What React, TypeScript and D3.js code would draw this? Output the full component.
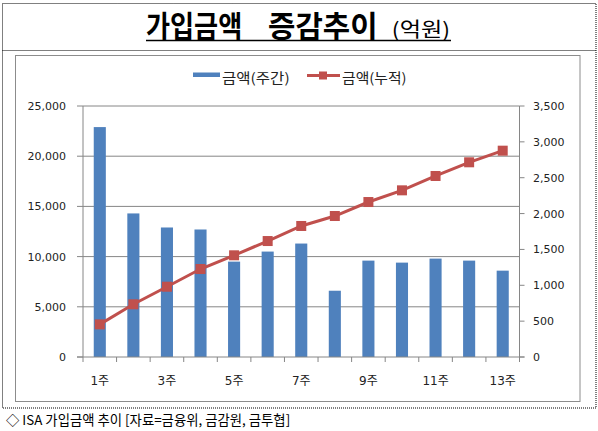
import React, { useEffect, useRef } from 'react';
import { scaleBand, scaleLinear, line, format, select } from 'd3';

const weeks = ['1주', '2주', '3주', '4주', '5주', '6주', '7주', '8주', '9주', '10주', '11주', '12주', '13주'];
const weekly = [22900, 14300, 12900, 12700, 9500, 10500, 11300, 6600, 9600, 9400, 9800, 9600, 8600];
const cumulative = [455, 735, 980, 1227, 1418, 1617, 1827, 1966, 2161, 2324, 2524, 2715, 2877];
const leftTicks = [0, 5000, 10000, 15000, 20000, 25000];
const rightTicks = [0, 500, 1000, 1500, 2000, 2500, 3000, 3500];

const W = 598;
const H = 431;
const plot = { left: 83, right: 519.5, top: 106, bottom: 357 };
const BLUE = '#4F81BD';
const RED = '#C0504D';
const GRID = '#868686';
const KR = '"Noto Sans CJK KR", "Noto Sans", sans-serif';
const NUM = '"DejaVu Sans", "Noto Sans CJK KR", sans-serif';

function App() {
  const svgRef = useRef<SVGSVGElement | null>(null);
  const x = scaleBand<string>().domain(weeks).range([plot.left, plot.right]).padding(0);
  const yL = scaleLinear().domain([0, 25000]).range([plot.bottom, plot.top]);
  const yR = scaleLinear().domain([0, 3500]).range([plot.bottom, plot.top]);
  const fmt = format(',');
  const barW = x.bandwidth() * 0.36;
  const cx = (w: string) => x(w)! + x.bandwidth() / 2;

  const path = line<number>()
    .x((_, i) => cx(weeks[i]))
    .y(d => yR(d))(cumulative);

  const boundaries = [...weeks.map(w => x(w)!), plot.right];

  // fit the ink of some texts to the span they cover in the picture
  useEffect(() => {
    const ctx = document.createElement('canvas').getContext('2d')!;
    select(svgRef.current).selectAll<SVGTextElement, unknown>('text[data-x0]').each(function () {
      const x0 = +this.getAttribute('data-x0')!;
      const x1 = +this.getAttribute('data-x1')!;
      const cs = getComputedStyle(this);
      ctx.font = `${cs.fontWeight} ${cs.fontSize} ${cs.fontFamily}`;
      const m = ctx.measureText(this.textContent || '');
      const ink = m.actualBoundingBoxLeft + m.actualBoundingBoxRight;
      if (!ink) return;
      const s = (x1 - x0) / ink;
      select(this).attr('x', 0).attr('transform', `translate(${x0 + m.actualBoundingBoxLeft * s},0) scale(${s},1)`);
    });
  }, []);

  return (
    <div style={{ position: 'absolute', left: 0, top: 0 }}>
      <svg ref={svgRef} width={W} height={H} style={{ display: 'block', background: '#fff' }}>
        {/* dotted frame */}
        <rect x={2.5} y={3.5} width={593.5} height={404.5} fill="none" stroke="#000" strokeDasharray="1,1" />
        <line x1={2.5} x2={596} y1={50.5} y2={50.5} stroke="#000" strokeDasharray="1,1" />

        {/* title */}
        <text x={146} y={37} data-x0={146} data-x1={240} fontFamily={KR} fontWeight="bold" fontSize={30} fill="#000">가입금액</text>
        <text x={269} y={37} data-x0={269} data-x1={375} fontFamily={KR} fontWeight="bold" fontSize={30} fill="#000">증감추이</text>
        <text x={393} y={37} data-x0={393} data-x1={448} fontFamily={KR} fontSize={20} fill="#000">(억원)</text>
        <line x1={146} x2={451} y1={40.5} y2={40.5} stroke="#000" strokeWidth={1.5} />

        {/* chart box */}
        <rect x={15.5} y={55.5} width={564.5} height={346} fill="#fff" stroke="#8c8c8c" />

        {/* legend */}
        <rect x={193} y={72.5} width={27} height={4.5} fill={BLUE} />
        <text x={222} y={83} data-x0={222} data-x1={289} fontFamily={KR} fontSize={13.5} fill="#222">금액(주간)</text>
        <line x1={307} x2={340} y1={75.5} y2={75.5} stroke={RED} strokeWidth={3} />
        <rect x={319} y={71.5} width={8} height={8} fill={RED} />
        <text x={342} y={83} data-x0={342} data-x1={406} fontFamily={KR} fontSize={13.5} fill="#222">금액(누적)</text>

        {/* gridlines */}
        {leftTicks.filter(t => t > 0).map(t => (
          <line key={t} x1={plot.left} x2={plot.right} y1={yL(t)} y2={yL(t)} stroke={GRID} strokeWidth={1} />
        ))}

        {/* bars */}
        {weekly.map((v, i) => (
          <rect key={i} x={cx(weeks[i]) - barW / 2} y={yL(v)} width={barW} height={plot.bottom - yL(v)} fill={BLUE} />
        ))}

        {/* axes */}
        <line x1={plot.left} x2={plot.left} y1={plot.top} y2={plot.bottom} stroke={GRID} />
        <line x1={plot.right} x2={plot.right} y1={plot.top} y2={plot.bottom} stroke={GRID} />
        <line x1={plot.left - 6} x2={plot.right + 5} y1={plot.bottom} y2={plot.bottom} stroke={GRID} />
        {leftTicks.map(t => (
          <g key={t}>
            <line x1={plot.left - 6} x2={plot.left} y1={yL(t)} y2={yL(t)} stroke={GRID} />
            <text x={66} y={yL(t) + 4} textAnchor="end" fontFamily={NUM} fontSize={11} fill="#222">{fmt(t)}</text>
          </g>
        ))}
        {rightTicks.map(t => (
          <g key={t}>
            <line x1={plot.right} x2={plot.right + 5} y1={yR(t)} y2={yR(t)} stroke={GRID} />
            <text x={533} y={yR(t) + 4} fontFamily={NUM} fontSize={11} fill="#222">{fmt(t)}</text>
          </g>
        ))}
        {boundaries.map((b, i) => (
          <line key={i} x1={b} x2={b} y1={plot.bottom} y2={plot.bottom + 5} stroke={GRID} />
        ))}
        {weeks.map((w, i) => i % 2 === 0 ? (
          <text key={w} x={cx(w)} y={385} textAnchor="middle" fontFamily={NUM} fontSize={12} fill="#222">{w}</text>
        ) : null)}

        {/* cumulative line */}
        <path d={path!} fill="none" stroke={RED} strokeWidth={3} />
        {cumulative.map((v, i) => (
          <rect key={i} x={cx(weeks[i]) - 5} y={yR(v) - 5} width={10} height={10} fill={RED} />
        ))}

        {/* footnote */}
        <text x={6} y={425} data-x0={6} data-x1={290} fontFamily={KR} fontSize={13.5} fill="#000">◇ ISA 가입금액 추이 [자료=금융위, 금감원, 금투협]</text>
      </svg>
    </div>
  );
}

export default App;
